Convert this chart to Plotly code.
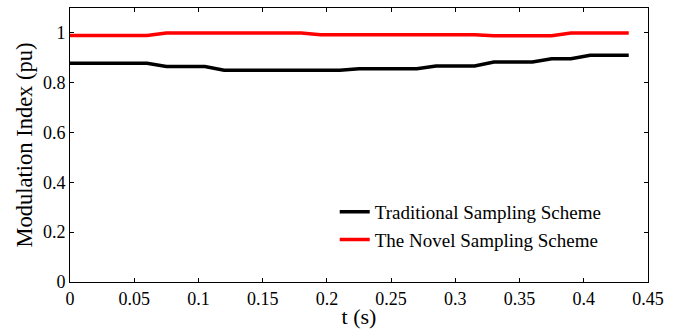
import plotly.graph_objects as go

# Sample instants (s)
t = [0.0, 0.015, 0.03, 0.045, 0.06, 0.075, 0.09, 0.105, 0.12, 0.135,
     0.15, 0.165, 0.18, 0.195, 0.21, 0.225, 0.24, 0.255, 0.27, 0.285,
     0.30, 0.315, 0.33, 0.345, 0.36, 0.375, 0.39, 0.405, 0.42, 0.435]

# Modulation index, traditional scheme (pu)
traditional = [0.878, 0.878, 0.878, 0.878, 0.878, 0.865, 0.865, 0.865, 0.850, 0.850,
               0.850, 0.850, 0.850, 0.850, 0.850, 0.856, 0.856, 0.856, 0.856, 0.867,
               0.867, 0.867, 0.883, 0.883, 0.883, 0.896, 0.896, 0.910, 0.910, 0.910]

# Modulation index, novel scheme (pu)
novel = [0.990, 0.990, 0.990, 0.990, 0.990, 1.000, 1.000, 1.000, 1.000, 1.000,
         1.000, 1.000, 1.000, 0.993, 0.993, 0.993, 0.993, 0.993, 0.993, 0.993,
         0.993, 0.993, 0.989, 0.989, 0.989, 0.989, 1.000, 1.000, 1.000, 1.000]

x_ticks = [0, 0.05, 0.1, 0.15, 0.2, 0.25, 0.3, 0.35, 0.4, 0.45]
x_tick_text = ["0", "0.05", "0.1", "0.15", "0.2", "0.25", "0.3", "0.35", "0.4", "0.45"]
y_ticks = [0, 0.2, 0.4, 0.6, 0.8, 1.0]
y_tick_text = ["0", "0.2", "0.4", "0.6", "0.8", "1"]

FONT = "Liberation Serif, Times New Roman, serif"

fig = go.Figure()
fig.add_trace(go.Scatter(x=t, y=traditional, mode="lines", name="Traditional Sampling Scheme",
                         line=dict(color="black", width=3.5)))
fig.add_trace(go.Scatter(x=t, y=novel, mode="lines", name="The Novel Sampling Scheme",
                         line=dict(color="#ff0000", width=3.5)))

axis_common = dict(showline=True, linecolor="black", linewidth=1, mirror="ticks",
                   ticks="inside", ticklen=4, tickcolor="black", showgrid=False,
                   zeroline=False, automargin=False,
                   tickfont=dict(family=FONT, size=18, color="black"))

fig.update_xaxes(range=[0, 0.45], tickvals=x_ticks, ticktext=x_tick_text,
                 title=dict(text="t (s)", font=dict(family=FONT, size=22, color="black"),
                            standoff=0),
                 **axis_common)
fig.update_yaxes(range=[0, 1.1], tickvals=y_ticks, ticktext=y_tick_text,
                 title=dict(text="Modulation Index (pu)",
                            font=dict(family=FONT, size=22.5, color="black"), standoff=4),
                 **axis_common)

fig.update_layout(
    width=681, height=329,
    margin=dict(l=70, r=33, t=8, b=47),
    paper_bgcolor="white", plot_bgcolor="white",
    font=dict(family=FONT, color="black"),
    legend=dict(x=0.458, y=0.325, xanchor="left", yanchor="top",
                bgcolor="rgba(0,0,0,0)", borderwidth=0,
                font=dict(family=FONT, size=19, color="black"),
                tracegroupgap=0),
)

fig.write_html("out.html")
